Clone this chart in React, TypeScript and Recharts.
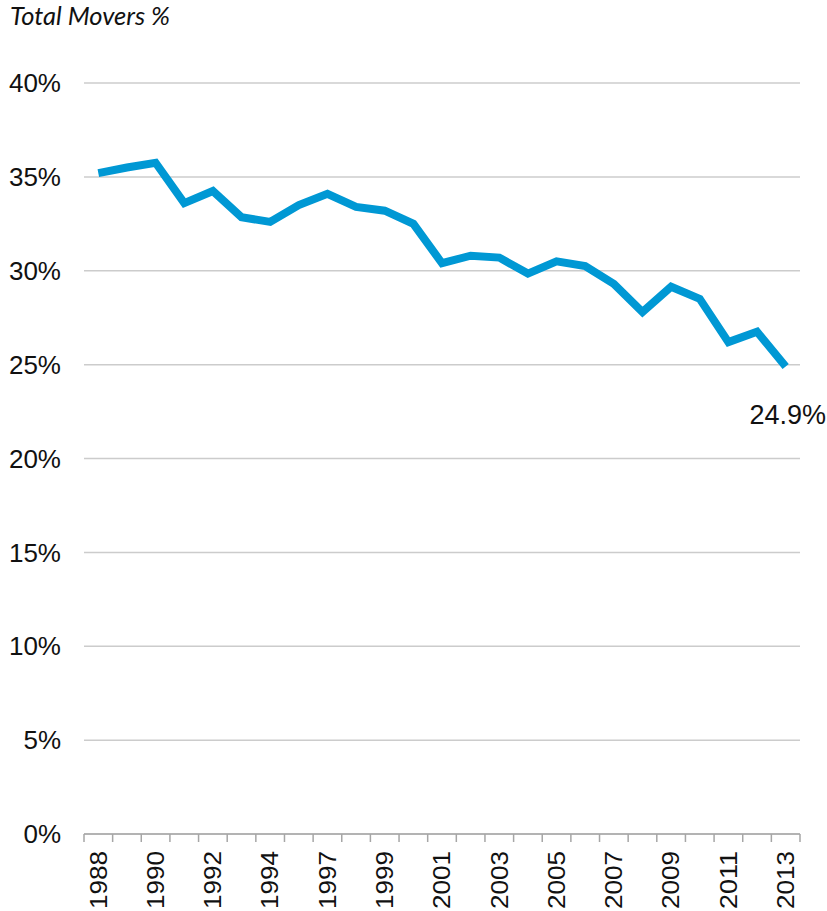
import React from 'react';
import { LineChart, Line, XAxis, YAxis, CartesianGrid } from 'recharts';

// survey years (no 1995 in the series)
const years = [
  '1988', '1989', '1990', '1991', '1992', '1993', '1994', '1996', '1997',
  '1998', '1999', '2000', '2001', '2002', '2003', '2004', '2005', '2006',
  '2007', '2008', '2009', '2010', '2011', '2012', '2013',
];

const totalMovers = [
  35.2, 35.5, 35.75, 33.6, 34.25, 32.85, 32.6, 33.5, 34.1,
  33.4, 33.2, 32.5, 30.4, 30.8, 30.7, 29.85, 30.5, 30.25,
  29.3, 27.8, 29.15, 28.5, 26.2, 26.75, 24.9,
];

const yTicks = [0, 5, 10, 15, 20, 25, 30, 35, 40];

const data = years.map((year, i) => ({ year, movers: totalMovers[i] }));

const BLUE = '#0098d4';
const AXIS_GREY = '#a6a6a6';

const XTick = (props: any) => {
  const { x, y, payload, index } = props;
  const half = payload?.offset ?? 14.32;
  return (
    <g>
      <line x1={x - half} y1={y} x2={x - half} y2={y + 8} stroke={AXIS_GREY} strokeWidth={1.5} />
      {index === years.length - 1 && (
        <line x1={x + half} y1={y} x2={x + half} y2={y + 8} stroke={AXIS_GREY} strokeWidth={1.5} />
      )}
      {index % 2 === 0 && (
        <text
          x={x}
          y={y + 17}
          transform={`rotate(-90, ${x}, ${y + 17})`}
          textAnchor="end"
          dy="0.36em"
          fontSize={23}
          textLength={58}
          lengthAdjust="spacingAndGlyphs"
          fontFamily="'Liberation Sans', Arial, sans-serif"
          fill="#111"
        >
          {payload.value}
        </text>
      )}
    </g>
  );
};

const LastLabel = (props: any) => {
  const { x, y, index } = props;
  if (index !== totalMovers.length - 1) return null;
  return (
    <text
      x={x + 2}
      y={y + 48}
      textAnchor="middle"
      dominantBaseline="central"
      fontSize={27}
      fontFamily="'Liberation Sans', Arial, sans-serif"
      fill="#111"
    >
      {`${totalMovers[index]}%`}
    </text>
  );
};

export default function App() {
  return (
    <div style={{ position: 'absolute', left: 0, top: 0, width: 827, height: 911, background: '#fff' }}>
      <div
        style={{
          position: 'absolute',
          left: 10,
          top: 0,
          fontFamily: 'Lato, sans-serif',
          fontStyle: 'italic',
          fontSize: 25.5,
          lineHeight: '31px',
          color: '#111',
          whiteSpace: 'nowrap',
        }}
      >
        Total Movers %
      </div>
      <LineChart width={827} height={911} data={data} margin={{ top: 83, right: 27, left: 0, bottom: 0 }}>
        <CartesianGrid vertical={false} stroke="#cccccc" strokeWidth={1.5} />
        <XAxis
          dataKey="year"
          scale="band"
          interval={0}
          height={77}
          tickLine={false}
          tickSize={0}
          tickMargin={0}
          axisLine={{ stroke: AXIS_GREY, strokeWidth: 1.5 }}
          tick={<XTick />}
        />
        <YAxis
          domain={[0, 40]}
          ticks={yTicks}
          width={84}
          axisLine={false}
          tickLine={false}
          tickSize={0}
          tickMargin={23}
          tickFormatter={(v) => `${v}%`}
          tick={{ fontSize: 26, fill: '#111', fontFamily: "'Liberation Sans', Arial, sans-serif" }}
        />
        <Line
          type="linear"
          dataKey="movers"
          stroke={BLUE}
          strokeWidth={8}
          dot={false}
          activeDot={false}
          label={<LastLabel />}
          isAnimationActive={false}
        />
      </LineChart>
    </div>
  );
}
